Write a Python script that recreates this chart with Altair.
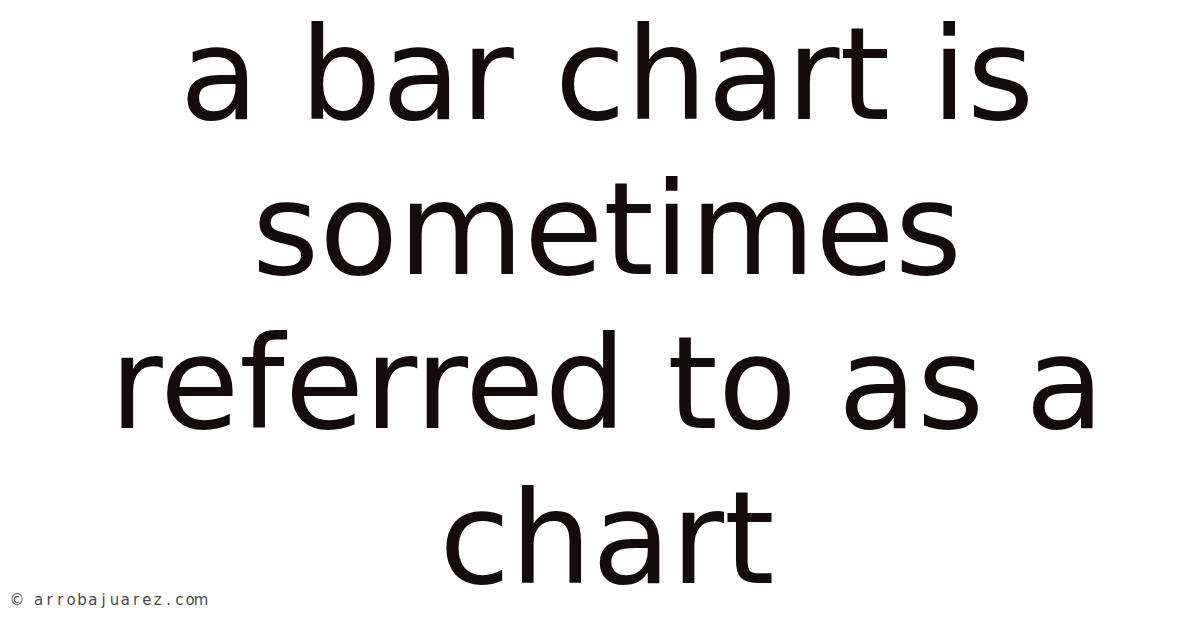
import altair as alt
import pandas as pd

lines = ["a bar chart is", "sometimes", "referred to as a", "chart"]
rows = [0, 1, 2, 3]
watermark_chars = list("© arrobajuarez.com")
watermark_index = list(range(len(watermark_chars)))

df = pd.DataFrame({"line": lines, "row": rows})
wm = pd.DataFrame({"ch": watermark_chars, "i": watermark_index})

title = alt.Chart(df).mark_text(
    font="DejaVu Sans",
    fontSize=129,
    color="#140c0c",
    align="center",
    baseline="alphabetic",
).encode(
    x=alt.value(599),
    y=alt.Y("row:Q", scale=alt.Scale(domain=[0, 3], range=[111, 575]), axis=None),
    text="line:N",
)

mark = alt.Chart(wm).mark_text(
    font="DejaVu Sans",
    fontSize=15,
    color="#4a4a4a",
    align="center",
    baseline="alphabetic",
).encode(
    x=alt.X("i:Q", scale=alt.Scale(domain=[0, 17], range=[9, 193]), axis=None),
    y=alt.value(597),
    text="ch:N",
)

chart = alt.layer(title, mark).resolve_scale(x="independent", y="independent").properties(
    width=1184,
    height=612,
    padding=0,
    autosize=alt.AutoSizeParams(type="none"),
    background="white",
).configure_view(stroke=None)

chart.save("out.html", embed_options={"renderer": "svg", "actions": False})
